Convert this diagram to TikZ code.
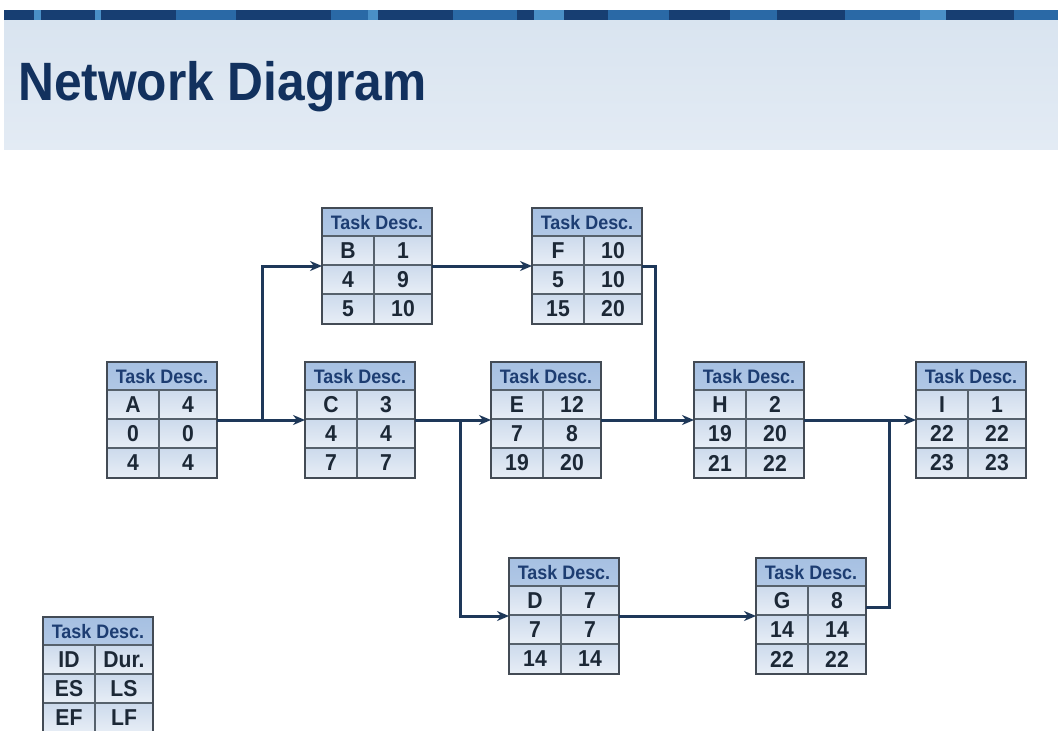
\documentclass[tikz,border=0pt]{standalone}
\usepackage{fontspec}
\setmainfont{Liberation Sans}
\newfontfamily\narrowfont{Liberation Sans}[FakeStretch=0.92]
\usepackage{tikz}
\usetikzlibrary{arrows.meta}
\usepackage{xcolor}

\definecolor{stripedark}{HTML}{173E72}
\definecolor{stripemid}{HTML}{2A69A6}
\definecolor{stripelight}{HTML}{4A8FC6}
\definecolor{bandtop}{HTML}{D9E4F0}
\definecolor{bandbot}{HTML}{E3EBF4}
\definecolor{titlec}{HTML}{12315E}
\definecolor{arrowc}{HTML}{1E3859}
\definecolor{boxedge}{HTML}{434B55}
\definecolor{gridc}{HTML}{56616C}
\definecolor{hdrtop}{HTML}{A6C0E2}
\definecolor{hdrbot}{HTML}{D2DFF0}
\definecolor{rowtop}{HTML}{CCDAEC}
\definecolor{rowbot}{HTML}{E8EEF6}
\definecolor{hdrtextc}{HTML}{1D3D72}
\definecolor{celltextc}{HTML}{1C2836}

\tikzset{
  taskbox/.style={draw=boxedge, line width=2.6pt, anchor=north west,
    minimum width=110pt, minimum height=116pt, inner sep=0pt, outer sep=0pt,
    path picture={
      \fill[top color=hdrtop, bottom color=hdrbot] (path picture bounding box.north west) rectangle ([yshift=-28pt]path picture bounding box.north east);
      \fill[top color=rowtop, bottom color=rowbot] ([yshift=-28pt]path picture bounding box.north west) rectangle ([yshift=-57pt]path picture bounding box.north east);
      \fill[top color=rowtop, bottom color=rowbot] ([yshift=-57pt]path picture bounding box.north west) rectangle ([yshift=-86pt]path picture bounding box.north east);
      \fill[top color=rowtop, bottom color=rowbot] ([yshift=-86pt]path picture bounding box.north west) rectangle (path picture bounding box.south east);
      \draw[gridc, line width=1.5pt] ([yshift=-28pt]path picture bounding box.north west) -- ([yshift=-28pt]path picture bounding box.north east);
      \draw[gridc, line width=1.5pt] ([yshift=-57pt]path picture bounding box.north west) -- ([yshift=-57pt]path picture bounding box.north east);
      \draw[gridc, line width=1.5pt] ([yshift=-86pt]path picture bounding box.north west) -- ([yshift=-86pt]path picture bounding box.north east);
      \draw[gridc, line width=1.5pt] ([xshift=52pt,yshift=-28pt]path picture bounding box.north west) -- ([xshift=52pt]path picture bounding box.south west);
    }},
  hdrtext/.style={font=\narrowfont\bfseries\fontsize{19.5}{21}\selectfont, text=hdrtextc, inner sep=0pt},
  celltext/.style={font=\narrowfont\bfseries\fontsize{23}{25}\selectfont, text=celltextc, inner sep=0pt},
  flow/.style={draw=arrowc, line width=3pt, -{Stealth[length=12pt,width=10pt]}},
  link/.style={draw=arrowc, line width=3pt}
}

\newcommand{\taskbox}[8]{%
  \node[taskbox] (#1) at (#2) {};
  \node[hdrtext] (#1-hd) at ([yshift=-14.5pt]#1.north) {Task Desc.};
  \node[celltext] (#1-id) at ([xshift=26pt,yshift=-42.5pt]#1.north west) {#3};
  \node[celltext] (#1-dur) at ([xshift=-29pt,yshift=-42.5pt]#1.north east) {#4};
  \node[celltext] (#1-es) at ([xshift=26pt,yshift=-71.5pt]#1.north west) {#5};
  \node[celltext] (#1-ls) at ([xshift=-29pt,yshift=-71.5pt]#1.north east) {#6};
  \node[celltext] (#1-ef) at ([xshift=26pt,yshift=-101pt]#1.north west) {#7};
  \node[celltext] (#1-lf) at ([xshift=-29pt,yshift=-101pt]#1.north east) {#8};
}

\begin{document}
\begin{tikzpicture}[x=1pt, y=-1pt]
  \useasboundingbox (0,0) rectangle (1058,731);
  \fill[white] (0,0) rectangle (1058,731);
  % header band
  \fill[top color=bandtop, bottom color=bandbot] (4,20) rectangle (1058,149);
  \foreach \a/\b/\c in {4/34/stripedark, 34/41/stripelight, 41/95/stripedark, 95/101/stripelight,
      101/176/stripedark, 176/236/stripemid, 236/331/stripedark, 331/368/stripemid,
      368/378/stripelight, 378/453/stripedark, 453/517/stripemid, 517/534/stripedark,
      534/564/stripelight, 564/608/stripedark, 608/669/stripemid, 669/730/stripedark,
      730/777/stripemid, 777/845/stripedark, 845/920/stripemid, 920/946/stripelight,
      946/1014/stripedark, 1014/1058/stripemid}
    \fill[\c] (\a,10) rectangle (\b,20);
  \node[anchor=base west, text=titlec, inner sep=0pt,
        font=\narrowfont\bfseries\fontsize{54}{60}\selectfont] (title) at (18,100) {Network Diagram};

  % tasks
  \taskbox{A}{107,362}{A}{4}{0}{0}{4}{4}
  \taskbox{B}{322,208}{B}{1}{4}{9}{5}{10}
  \taskbox{C}{305,362}{C}{3}{4}{4}{7}{7}
  \taskbox{F}{532,208}{F}{10}{5}{10}{15}{20}
  \taskbox{E}{491,362}{E}{12}{7}{8}{19}{20}
  \taskbox{H}{694,362}{H}{2}{19}{20}{21}{22}
  \taskbox{I}{916,362}{I}{1}{22}{22}{23}{23}
  \taskbox{D}{509,558}{D}{7}{7}{7}{14}{14}
  \taskbox{G}{756,558}{G}{8}{14}{14}{22}{22}
  \taskbox{key}{43,617}{ID}{Dur.}{ES}{LS}{EF}{LF}

  % connectors
  \coordinate (ab) at (262,420);
  \coordinate (cd) at (460,420);
  \coordinate (fh) at (655,420);
  \coordinate (gi) at (889,420);
  \draw[flow] (A) -- (C);
  \draw[flow] (ab) |- (B);
  \draw[flow] (B) -- (F);
  \draw[link] (F) -| (fh);
  \draw[flow] (C) -- (E);
  \draw[flow] (cd) |- (D);
  \draw[flow] (E) -- (H);
  \draw[flow] (H) -- (I);
  \draw[flow] (D) -- (G);
  \draw[link] ([yshift=-49pt]G.north east) -| (gi);
\end{tikzpicture}
\end{document}
